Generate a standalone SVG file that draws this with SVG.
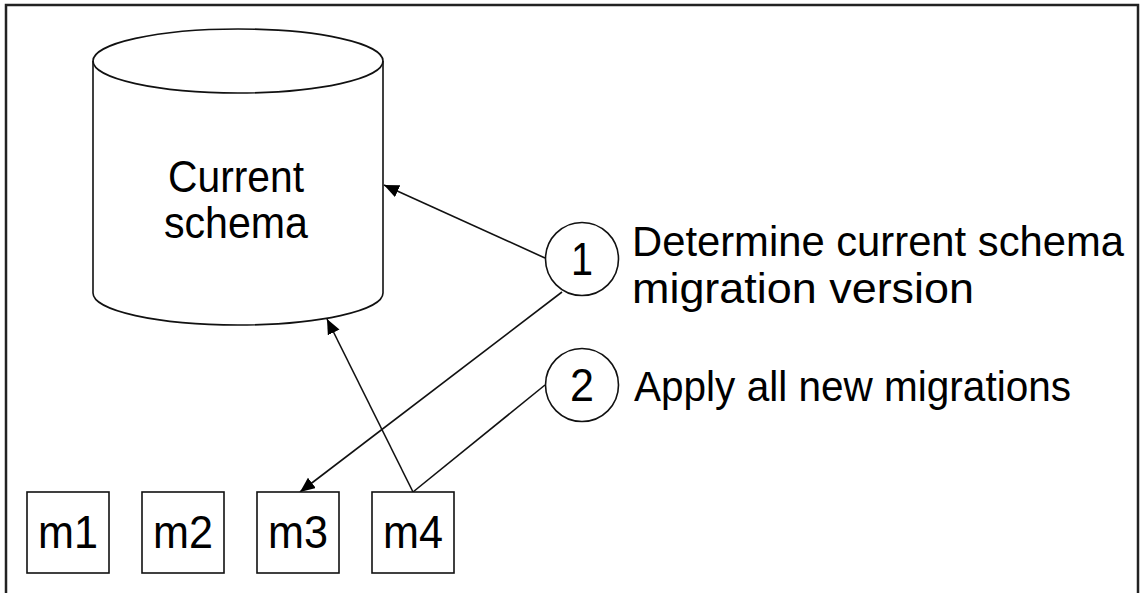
<svg xmlns="http://www.w3.org/2000/svg" width="1141" height="593" viewBox="0 0 1141 593">
<style>
.s{fill:none;stroke:#111;stroke-width:1.6}
.n{fill:#fff;stroke:#111;stroke-width:1.6}
.t{font-family:"Liberation Sans",Arial,sans-serif;font-size:46px;fill:#000}
.r{font-size:42px}
.k{font-size:45px}
.c{text-anchor:middle}
</style>
<defs>
<marker id="ah" markerUnits="userSpaceOnUse" markerWidth="16" markerHeight="14" refX="15" refY="6.5" orient="auto">
<path d="M0,0 L15,6.5 L0,13 z" fill="#000"/>
</marker>
</defs>
<rect width="1141" height="593" fill="#fff"/>
<path d="M6,593 V5 H1138 V593" fill="none" stroke="#222" stroke-width="2.5"/>
<g id="db">
<path class="n" d="M93,61 A145,32 0 0,1 383,61 V293 A145,32 0 0,1 93,293 Z"/>
<path class="s" d="M93,61 A145,32 0 0,0 383,61"/>
<text class="t k c" x="236" y="192" textLength="136" lengthAdjust="spacingAndGlyphs">Current</text>
<text class="t k c" x="236" y="238" textLength="144" lengthAdjust="spacingAndGlyphs">schema</text>
</g>
<g id="connectors">
<line class="s" x1="545" y1="258" x2="384" y2="185" marker-end="url(#ah)"/>
<line class="s" x1="562" y1="292" x2="300" y2="492" marker-end="url(#ah)"/>
<line class="s" x1="413" y1="492" x2="327" y2="319" marker-end="url(#ah)"/>
<line class="s" x1="413" y1="492" x2="545" y2="385"/>
</g>
<g id="step1">
<circle class="n" cx="582" cy="259" r="36.5"/>
<text class="t c" x="582" y="275" textLength="22" lengthAdjust="spacingAndGlyphs">1</text>
<text class="t r" x="632" y="256" textLength="492" lengthAdjust="spacingAndGlyphs">Determine current schema</text>
<text class="t r" x="632" y="303" textLength="342" lengthAdjust="spacingAndGlyphs">migration version</text>
</g>
<g id="step2">
<circle class="n" cx="582" cy="385" r="36.5"/>
<text class="t c" x="582" y="401" textLength="24" lengthAdjust="spacingAndGlyphs">2</text>
<text class="t r" x="634" y="401" textLength="437" lengthAdjust="spacingAndGlyphs">Apply all new migrations</text>
</g>
<g id="m1"><rect class="n" x="27" y="492" width="82" height="81"/><text class="t c" x="68" y="548" textLength="60" lengthAdjust="spacingAndGlyphs">m1</text></g>
<g id="m2"><rect class="n" x="142" y="492" width="82" height="81"/><text class="t c" x="183" y="548" textLength="60" lengthAdjust="spacingAndGlyphs">m2</text></g>
<g id="m3"><rect class="n" x="257" y="492" width="82" height="81"/><text class="t c" x="298" y="548" textLength="60" lengthAdjust="spacingAndGlyphs">m3</text></g>
<g id="m4"><rect class="n" x="372" y="492" width="82" height="81"/><text class="t c" x="413" y="548" textLength="60" lengthAdjust="spacingAndGlyphs">m4</text></g>
</svg>
